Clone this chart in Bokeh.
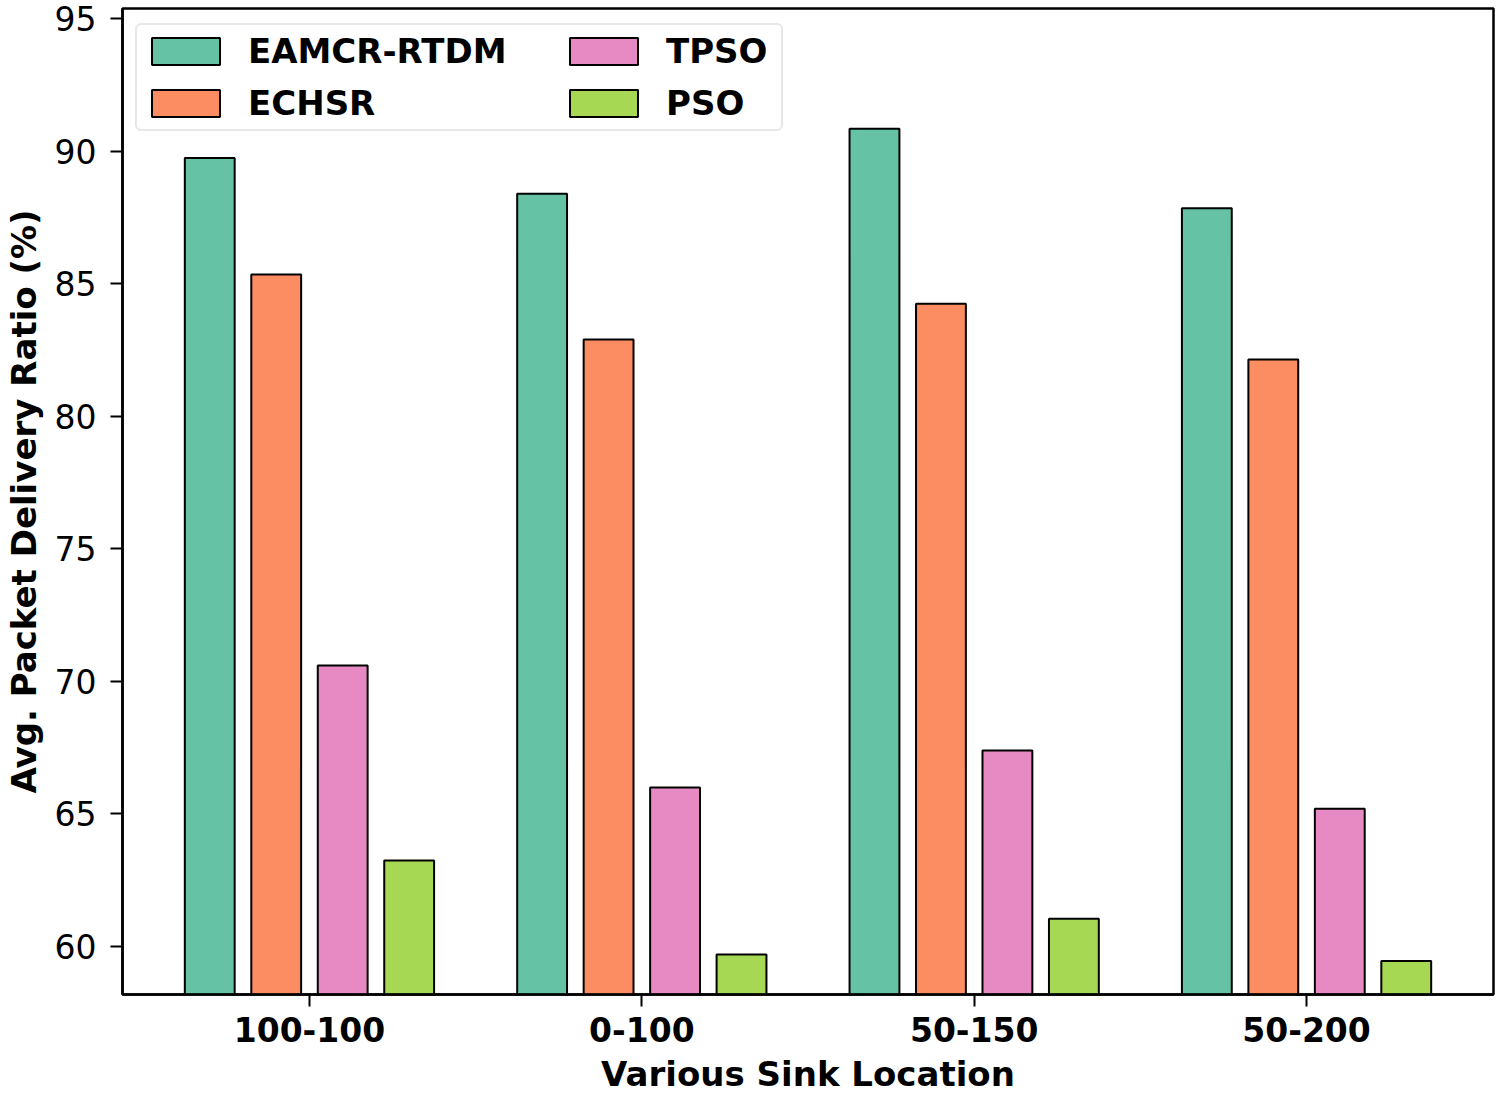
from bokeh.plotting import figure
from bokeh.models import ColumnDataSource, Range1d, FixedTicker, Legend, LegendItem
from bokeh.embed import file_html
from bokeh.resources import INLINE

categories = ["100-100", "0-100", "50-150", "50-200"]
series_names = ["EAMCR-RTDM", "ECHSR", "TPSO", "PSO"]
eamcr_rtdm = [89.75, 88.4, 90.85, 87.85]
echsr = [85.35, 82.9, 84.25, 82.15]
tpso = [70.6, 66.0, 67.4, 65.2]
pso = [63.25, 59.7, 61.05, 59.45]
y_ticks = [60, 65, 70, 75, 80, 85, 90, 95]

values = [eamcr_rtdm, echsr, tpso, pso]
colors = ["#66c2a5", "#fc8d62", "#e78ac3", "#a6d854"]
offsets = [-0.3, -0.1, 0.1, 0.3]
bar_w = 0.15
FONT = "DejaVu Sans"

p = figure(width=1500, height=1096, output_backend="svg", toolbar_location=None,
           x_range=Range1d(-0.5625, 3.5625), y_range=Range1d(58.19, 95.39),
           min_border_left=122, min_border_right=7, min_border_top=8, min_border_bottom=102)

p.grid.visible = False
p.outline_line_color = "black"
p.outline_line_width = 2.5

items = []
for name, vals, col, off in zip(series_names, values, colors, offsets):
    src = ColumnDataSource(dict(x=[i + off for i in range(len(categories))], top=vals))
    r = p.vbar(x="x", top="top", bottom=0, width=bar_w, source=src,
               fill_color=col, line_color="black", line_width=2)
    items.append(LegendItem(label=name, renderers=[r]))

p.xaxis.ticker = FixedTicker(ticks=list(range(len(categories))))
p.xaxis.major_label_overrides = {i: c for i, c in enumerate(categories)}
p.yaxis.ticker = FixedTicker(ticks=y_ticks)

for ax in (p.xaxis, p.yaxis):
    ax.axis_line_width = 2.5
    ax.axis_line_color = "black"
    ax.major_tick_line_width = 2
    ax.major_tick_out = 12
    ax.major_tick_in = 0
    ax.minor_tick_line_color = None
    ax.major_label_text_font = FONT
    ax.axis_label_text_font = FONT
    ax.axis_label_text_font_style = "bold"
    ax.axis_label_text_font_size = "34px"
    ax.major_label_text_color = "black"
    ax.axis_label_text_color = "black"

p.xaxis.major_label_text_font_size = "33px"
p.xaxis.major_label_text_font_style = "bold"
p.xaxis.major_label_standoff = 10
p.xaxis.axis_label = "Various Sink Location"
p.xaxis.axis_label_standoff = 9

p.yaxis.major_label_text_font_size = "33px"
p.yaxis.major_label_standoff = 14
p.yaxis.axis_label = "Avg. Packet Delivery Ratio (%)"
p.yaxis.axis_label_standoff = 8

common = dict(label_text_font=FONT, label_text_font_style="bold",
              label_text_font_size="34px", label_text_color="black",
              glyph_width=85, glyph_height=34, label_standoff=20,
              padding=6, spacing=12, margin=0)

legend_a = Legend(items=items[:2], location=(13, 863), label_width=527,
                  border_line_color="#d0d0d0", border_line_width=2,
                  border_radius=6, background_fill_alpha=0.8, **common)
legend_b = Legend(items=items[2:], location=(439, 871),
                  border_line_color=None, background_fill_color=None,
                  background_fill_alpha=0, **common)
p.add_layout(legend_a)
p.add_layout(legend_b)

open("out.html", "w").write(file_html(p, INLINE))
